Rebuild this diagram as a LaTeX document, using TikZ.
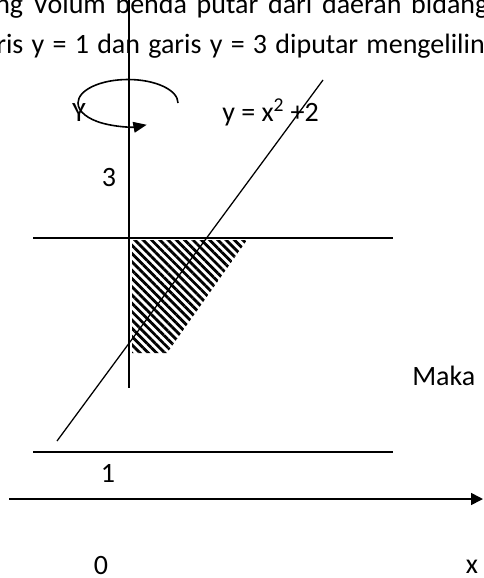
\documentclass[tikz,border=0pt]{standalone}
\usepackage{fontspec}
\setmainfont{Carlito}
\usetikzlibrary{arrows.meta,patterns.meta}
\begin{document}
\begin{tikzpicture}[x=0.75pt,y=-0.75pt,
  lbl/.style={inner sep=0pt,font=\fontsize{21}{25}\selectfont},
  toptext/.style={inner sep=0pt,anchor=base west,font=\fontsize{21}{25}\selectfont},
  thin line/.style={line width=0.95pt},
  axis line/.style={line width=1.2pt}]
\useasboundingbox (0,0) rectangle (483,578);
% top text (cut off)
\node[toptext] (t1) at (-5,13) {\spaceskip=7.3pt\relax ng Volum benda putar dari daerah bidang};
\node[toptext] (t2) at (-4,53) {\spaceskip=6.2pt\relax ris y = 1 dan garis y = 3 diputar mengelilin};
% shaded region
\pattern[pattern={Lines[angle=-45,distance=4.4pt,line width=2.1pt]}]
  (132,240) -- (247,240) -- (167,353) -- (132,353) -- cycle;
% coordinates
\coordinate (yt) at (129,0);
\coordinate (yb) at (129,388);
\coordinate (l3a) at (33,238);
\coordinate (l3b) at (393,238);
\coordinate (l1a) at (33,452);
\coordinate (l1b) at (393,452);
\coordinate (sa) at (57,441);
\coordinate (sb) at (323,80);
\coordinate (xa) at (9,499);
\coordinate (xb) at (483,499);
% lines
\draw[axis line] (yt) -- (yb);
\draw[thin line] (l3a) -- (l3b);
\draw[thin line] (l1a) -- (l1b);
\draw[thin line] (sa) -- (sb);
\draw[axis line,-{Triangle[length=9pt,width=9pt]}] (xa) -- (xb);
% rotation arrow
\draw[axis line,-{Triangle[length=10pt,width=8pt]}] (178,103) arc[start angle=0,end angle=-292,x radius=50,y radius=23.5];
% labels
\node[lbl] (Y) at (79,113) {Y};
\node[lbl,anchor=west] (eq) at (222,112) {y = x\textsuperscript{2} +2};
\node[lbl] (n3) at (109,178) {3};
\node[lbl] (n1) at (108,473) {1};
\node[lbl] (n0) at (101,566) {0};
\node[lbl] (nx) at (472,567) {x};
\node[lbl,anchor=west] (maka) at (412,376) {Maka};
\end{tikzpicture}
\end{document}
